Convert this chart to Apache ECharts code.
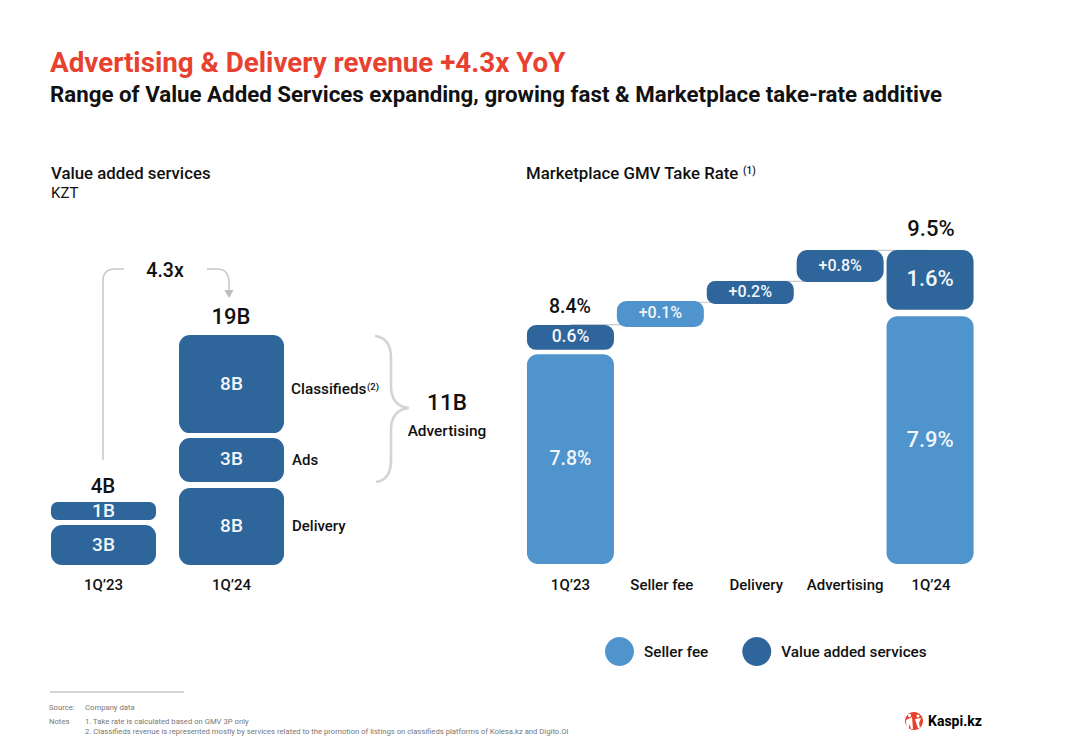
<!DOCTYPE html>
<html>
<head>
<meta charset="utf-8">
<style>html,body{margin:0;padding:0;background:#fff}#c{width:1083px;height:750px}</style>
<script src="https://cdn.jsdelivr.net/npm/echarts@6/dist/echarts.min.js"></script>
</head>
<body>
<div id="c"></div>
<script>
// Left panel: Value added services, KZT (segment extents as drawn, in axis units)
const leftCategories = ["1Q’23", "1Q’24"];
const leftCat   = [0, 0, 1, 1, 1];
const leftLow   = [0, 3.72, 0, 6.86, 10.9];
const leftHigh  = [3.3, 5.2, 6.36, 10.5, 19];
const leftLabel = ["3B", "1B", "8B", "3B", "8B"];

// Right panel: Marketplace GMV take rate (segment extents as drawn, in axis units)
const rightCategories = ["1Q’23", "Seller fee", "Delivery", "Advertising", "1Q’24"];
const sellerCat   = [0, 1, 4];
const sellerLow   = [0, 7.17, 0];
const sellerHigh  = [6.35, 7.96, 7.5];
const sellerLabel = ["7.8%", "+0.1%", "7.9%"];
const vasCat   = [0, 2, 3, 4];
const vasLow   = [6.48, 7.87, 8.53, 7.69];
const vasHigh  = [7.23, 8.56, 9.5, 9.5];
const vasLabel = ["0.6%", "+0.2%", "+0.8%", "1.6%"];
const connFrom  = [0, 1, 2, 3];
const connTo    = [1, 2, 3, 4];
const connLevel = [7.24, 7.92, 8.55, 9.49];

const DARK = '#2e659b', LIGHT = '#4f94cc', GREY = '#c9c9c9';
const FF = 'Roboto, sans-serif';
const leftFonts = [19, 19, 19, 19, 19];
const sellerFonts = [19.5, 16, 22];
const vasFonts = [17.5, 16, 16, 22];
const tickPad = [0, 3, 12, 10, 2];
const axisFont = { fontFamily: FF, fontWeight: 500, fontSize: 15, color: '#111' };
const tickRich = {};
tickPad.forEach((p, i) => { tickRich['t' + i] = Object.assign({ padding: [0, 0, 0, p] }, axisFont); });

function rows(cat, low, high) { return cat.map((c, i) => [c, low[i], high[i]]); }
function segRender(labels, fonts, barW, dy) {
  return function (params, api) {
    const i = params.dataIndex;
    const a = api.coord([api.value(0), api.value(2)]);
    const b = api.coord([api.value(0), api.value(1)]);
    const h = b[1] - a[1];
    return {
      type: 'rect',
      shape: { x: a[0] - barW / 2, y: a[1], width: barW, height: h, r: Math.min(11, h * 0.36) },
      style: { fill: api.visual('color') },
      textContent: { style: { text: labels[i], fill: '#f2f6fa', font: '500 ' + fonts[i] + 'px ' + FF } },
      textConfig: { position: 'inside', offset: [0, -1] }
    };
  };
}
function connRender(params, api) {
  const a = api.coord([api.value(0), api.value(2)]);
  const b = api.coord([api.value(1), api.value(2)]);
  return { type: 'line', shape: { x1: a[0], y1: a[1], x2: b[0], y2: b[1] }, style: { stroke: GREY, lineWidth: 1.2 } };
}
function t(text, x, y, size, opt) {
  opt = opt || {};
  return { type: 'text', silent: true, style: {
    text, x, y, fill: opt.fill || '#111',
    font: (opt.weight || 500) + ' ' + size + 'px ' + FF,
    textAlign: opt.align || 'left', textVerticalAlign: 'middle', verticalAlign: 'middle'
  } };
}
const curve = { stroke: GREY, lineWidth: 1.6, fill: null };
const brace = { stroke: '#d4d4d4', lineWidth: 2.6, fill: null };
function seg(x1, y1, x2, y2, s) { return { type: 'line', silent: true, shape: { x1, y1, x2, y2 }, style: s }; }
function q(x1, y1, cx, cy, x2, y2, s) { return { type: 'bezierCurve', silent: true, shape: { x1, y1, x2, y2, cpx1: cx, cpy1: cy }, style: s }; }

const option = {
  backgroundColor: '#fff',
  animation: false,
  title: [
    { text: 'Advertising & Delivery revenue +4.3x YoY', left: 45, top: 43, textStyle: { color: '#e8412f', fontFamily: FF, fontWeight: 700, fontSize: 27.75 } },
    { text: 'Range of Value Added Services expanding, growing fast & Marketplace take-rate additive', left: 45, top: 78, textStyle: { color: '#111', fontFamily: FF, fontWeight: 700, fontSize: 22.3 } }
  ],
  legend: {
    left: 600, top: 632, icon: 'circle', itemWidth: 29, itemHeight: 29, itemGap: 34,
    selectedMode: false, data: ['Seller fee', 'Value added services'],
    textStyle: { fontFamily: FF, fontWeight: 500, fontSize: 15.3, color: '#111', padding: [0, 0, 0, 5] }
  },
  grid: [
    { left: 39.5, width: 256, top: 323, height: 242 },
    { left: 525.5, width: 449.5, top: 233.5, height: 330.5 }
  ],
  xAxis: [
    { gridIndex: 0, type: 'category', data: leftCategories, axisLine: { show: false }, axisTick: { show: false },
      axisLabel: Object.assign({ margin: 12, interval: 0 }, axisFont) },
    { gridIndex: 1, type: 'category', data: rightCategories, axisLine: { show: false }, axisTick: { show: false },
      axisLabel: Object.assign({ margin: 13, interval: 0, hideOverlap: false, rich: tickRich,
        formatter: (v, i) => '{t' + i + '|' + v + '}' }, axisFont) }
  ],
  yAxis: [
    { gridIndex: 0, type: 'value', min: 0, max: 20, show: false },
    { gridIndex: 1, type: 'value', min: 0, max: 10, show: false }
  ],
  series: [
    { name: 'Value added services', type: 'custom', xAxisIndex: 0, yAxisIndex: 0, itemStyle: { color: DARK }, z: 3,
      encode: { x: 0, y: [1, 2] }, renderItem: segRender(leftLabel, leftFonts, 105), data: rows(leftCat, leftLow, leftHigh) },
    { name: 'Connectors', type: 'custom', xAxisIndex: 1, yAxisIndex: 1, z: 1,
      encode: { x: 0, y: 2 }, renderItem: connRender, data: connFrom.map((f, i) => [f, connTo[i], connLevel[i]]) },
    { name: 'Seller fee', type: 'custom', xAxisIndex: 1, yAxisIndex: 1, itemStyle: { color: LIGHT }, z: 3,
      encode: { x: 0, y: [1, 2] }, renderItem: segRender(sellerLabel, sellerFonts, 87), data: rows(sellerCat, sellerLow, sellerHigh) },
    { name: 'Value added services', type: 'custom', xAxisIndex: 1, yAxisIndex: 1, itemStyle: { color: DARK }, z: 3,
      encode: { x: 0, y: [1, 2] }, renderItem: segRender(vasLabel, vasFonts, 87), data: rows(vasCat, vasLow, vasHigh) }
  ],
  graphic: [
    t('Value added services', 51, 173, 16.8),
    t('KZT', 51, 193, 15, { weight: 400 }),
    t('Marketplace GMV Take Rate', 526, 173, 16.8),
    t('(1)', 743, 170, 10),
    t('4.3x', 165, 270, 19.5, { align: 'center' }),
    t('19B', 231, 316, 22, { align: 'center' }),
    t('4B', 103, 486, 20.5, { align: 'center' }),
    t('Classifieds', 291, 389, 15.3),
    t('(2)', 367, 386, 9.5),
    t('Ads', 292, 459.5, 15),
    t('Delivery', 292, 526, 15),
    t('11B', 447, 402, 22.5, { align: 'center' }),
    t('Advertising', 447, 431, 15.4, { align: 'center' }),
    t('8.4%', 570, 306, 19.5, { align: 'center' }),
    t('9.5%', 931, 228, 22, { align: 'center' }),
    seg(103, 460, 103, 281, curve),
    q(103, 281, 103, 269, 115, 269, curve),
    seg(115, 269, 124, 269, curve),
    seg(207, 269, 217, 269, curve),
    q(217, 269, 229, 269, 229, 283, curve),
    seg(229, 283, 229, 290, curve),
    { type: 'polygon', silent: true, shape: { points: [[224.5, 290], [233.5, 290], [229, 298]] }, style: { fill: '#bdbdbd' } },
    q(375, 336, 391, 338, 391, 358, brace),
    seg(391, 358, 391, 386, brace),
    q(391, 386, 391, 406, 409, 408, brace),
    q(409, 408, 391, 410, 391, 430, brace),
    seg(391, 430, 391, 460, brace),
    q(391, 460, 391, 480, 376, 482, brace),
    seg(50, 692, 184, 692, { stroke: '#aaa', lineWidth: 1 }),
    t('Source:', 49, 707, 7.7, { weight: 400, fill: '#777' }),
    t('Company data', 85, 707, 7.7, { weight: 400, fill: '#777' }),
    t('Notes', 49, 721, 7.7, { weight: 400, fill: '#777' }),
    t('1. Take rate is calculated based on GMV 3P only', 85, 721, 7.7, { weight: 400, fill: '#777' }),
    t('2. Classifieds revenue is represented mostly by services related to the promotion of listings on classifieds platforms of Kolesa.kz and Digito.Ol', 85, 731, 7.7, { weight: 400, fill: '#777' }),
    { type: 'circle', silent: true, shape: { cx: 914, cy: 721, r: 9 }, style: { fill: '#e8412f' } },
    { type: 'circle', silent: true, shape: { cx: 909.5, cy: 715.5, r: 1.6 }, style: { fill: '#fff' } },
    { type: 'polygon', silent: true, shape: { points: [[906, 720], [912, 717], [913, 729], [911, 729], [909.5, 724], [908.5, 729], [906.5, 729]] }, style: { fill: '#fff' } },
    { type: 'circle', silent: true, shape: { cx: 918, cy: 716, r: 1.5 }, style: { fill: '#fff' } },
    { type: 'polygon', silent: true, shape: { points: [[915, 719], [921, 718], [919, 723], [920, 728], [918, 728], [916.5, 724]] }, style: { fill: '#fff' } },
    t('Kaspi.kz', 928, 721, 14, { weight: 700, fill: '#000' })
  ]
};
const chart = echarts.init(document.getElementById('c'), null, { renderer: 'svg', width: 1083, height: 750 });
chart.setOption(option);
</script>
</body>
</html>
